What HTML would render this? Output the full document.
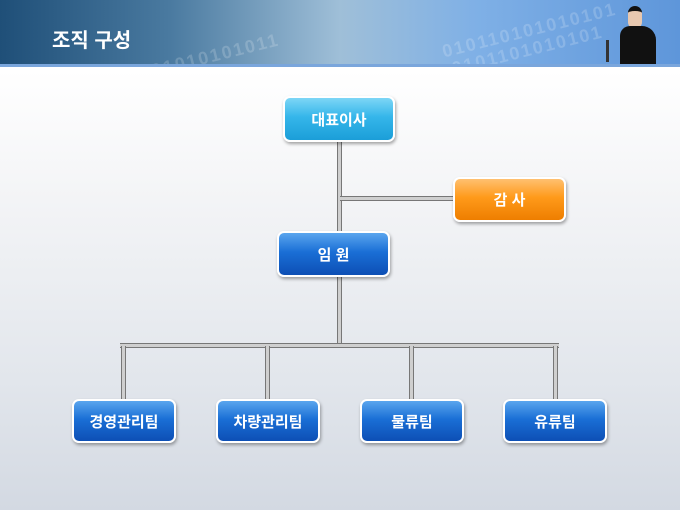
<!DOCTYPE html>
<html><head><meta charset="utf-8"><style>
body{margin:0;width:680px;height:510px;overflow:hidden;position:relative;font-family:"Liberation Sans","Noto Sans CJK KR","NanumGothic",sans-serif;
background:linear-gradient(180deg,#ffffff 70px,#f3f4f6 200px,#e2e6ec 380px,#d3d9e2 510px);}
.hdr{position:absolute;left:0;top:0;width:680px;height:64px;background:linear-gradient(90deg,#1f4f78 0%,#4a7aa0 25%,#9fbfd8 50%,#7fb0e6 70%,#5e96da 100%);border-bottom:3px solid #7aa6dc;overflow:hidden}
.hdr .t{position:absolute;left:52px;top:24px;color:#fff;font-size:20px;font-weight:bold;}
.bin{position:absolute;color:rgba(255,255,255,.18);font-size:18px;font-weight:bold;letter-spacing:2px;transform:rotate(-14deg);white-space:nowrap}
.box{position:absolute;box-sizing:border-box;border:2px solid #fff;border-radius:7px;color:#fff;font-weight:bold;font-size:15px;display:flex;align-items:center;justify-content:center;box-shadow:1px 2px 3px rgba(0,0,0,.35);}
.cy{background:linear-gradient(180deg,#7dd6f6 0%,#35b6ea 45%,#1b9ed8 100%);}
.bl{background:linear-gradient(180deg,#5aa5ee 0%,#1a6fd6 45%,#0d4fb5 100%);}
.or{background:linear-gradient(180deg,#ffc070 0%,#ff9a1a 45%,#ee7e00 100%);}
.v,.h{position:absolute;background:#cfcfcf;box-sizing:border-box;}
.v{width:5px;border-left:1px solid #777;border-right:1px solid #777;}
.h{height:5px;border-top:1px solid #777;border-bottom:1px solid #777;}
</style></head><body>
<div class="hdr"><span class="bin" style="left:150px;top:45px">01010101011</span><span class="bin" style="left:440px;top:20px">010110101010101</span><span class="bin" style="left:450px;top:40px">0101101010101</span>
<div class="t">조직 구성</div>
<div style="position:absolute;left:628px;top:6px;width:14px;height:18px;border-radius:7px;background:#e8c8b0;border-top:5px solid #111"></div>
<div style="position:absolute;left:620px;top:26px;width:36px;height:38px;border-radius:10px 14px 0 0;background:#111"></div>
<div style="position:absolute;left:606px;top:40px;width:3px;height:22px;background:#333"></div>
</div>
<div class="v" style="left:337px;top:142px;height:90px"></div>
<div class="h" style="left:340px;top:196px;width:114px"></div>
<div class="v" style="left:337px;top:276px;height:70px"></div>
<div class="h" style="left:120px;top:343px;width:439px"></div>
<div class="v" style="left:121px;top:346px;height:54px"></div>
<div class="v" style="left:265px;top:346px;height:54px"></div>
<div class="v" style="left:409px;top:346px;height:54px"></div>
<div class="v" style="left:553px;top:346px;height:54px"></div>
<div class="box cy" style="left:283px;top:96px;width:112px;height:46px">대표이사</div>
<div class="box or" style="left:453px;top:177px;width:113px;height:45px">감 사</div>
<div class="box bl" style="left:277px;top:231px;width:113px;height:46px">임 원</div>
<div class="box bl" style="left:72px;top:399px;width:104px;height:44px">경영관리팀</div>
<div class="box bl" style="left:216px;top:399px;width:104px;height:44px">차량관리팀</div>
<div class="box bl" style="left:360px;top:399px;width:104px;height:44px">물류팀</div>
<div class="box bl" style="left:503px;top:399px;width:104px;height:44px">유류팀</div>
</body></html>
